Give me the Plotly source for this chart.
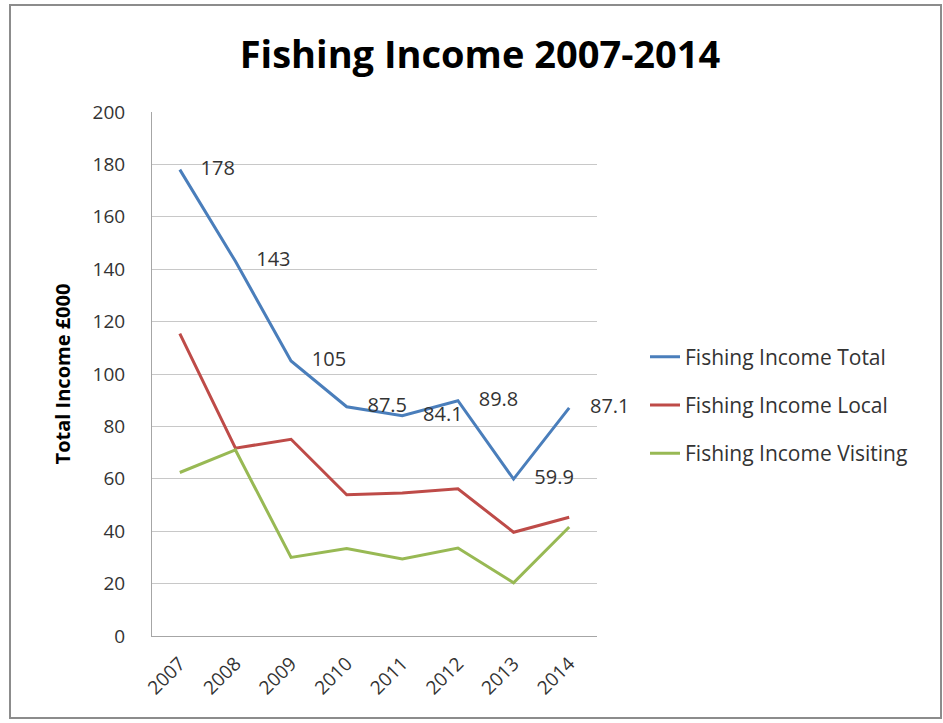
import plotly.graph_objects as go

years = ["2007", "2008", "2009", "2010", "2011", "2012", "2013", "2014"]
total = [178, 143, 105, 87.5, 84.1, 89.8, 59.9, 87.1]
local = [115.4, 71.7, 75.1, 53.9, 54.6, 56.2, 39.6, 45.3]
visiting = [62.4, 71.0, 30.0, 33.4, 29.4, 33.6, 20.3, 41.6]
total_labels = ["178", "143", "105", "87.5", "84.1", "89.8", "59.9", "87.1"]

FONT = "Open Sans"

fig = go.Figure()
fig.add_trace(go.Scatter(x=years, y=total, mode="lines+text", name="Fishing Income Total",
                         legendgroup="a", cliponaxis=False,
                         line=dict(color="#4a7ebb", width=3),
                         text=["    " + s for s in total_labels], textposition="middle right",
                         textfont=dict(size=20, color="#333333", family=FONT)))
fig.add_trace(go.Scatter(x=years, y=local, mode="lines", name="Fishing Income Local",
                         legendgroup="b",
                         line=dict(color="#be4b48", width=3)))
fig.add_trace(go.Scatter(x=years, y=visiting, mode="lines", name="Fishing Income Visiting",
                         legendgroup="c",
                         line=dict(color="#98b954", width=3)))

l, r, t, b = 152, 346, 112, 87
W, H = 943, 723
pw, ph = W - l - r, H - t - b

fig.update_layout(
    width=W, height=H,
    margin=dict(l=l, r=r, t=t, b=b, autoexpand=False),
    paper_bgcolor="white", plot_bgcolor="white",
    font=dict(family=FONT, color="#333333"),
    title=dict(text="<b>Fishing Income 2007-2014</b>", x=480 / W, xanchor="center",
               y=1 - 55 / H, yanchor="middle", font=dict(size=38, color="black", family=FONT)),
    showlegend=True,
    legend=dict(x=(645 - l) / pw, xanchor="left", y=(636 - 405) / ph, yanchor="middle",
                font=dict(size=21, color="#333333", family=FONT),
                tracegroupgap=18, itemwidth=30, bgcolor="rgba(0,0,0,0)"),
    xaxis=dict(type="category", tickangle=-45, tickfont=dict(size=19, color="#333333"),
               showgrid=False, showline=True, linecolor="#a6a6a6", linewidth=1,
               ticks="", ticklabelstandoff=8, range=[-0.5, 7.5]),
    yaxis=dict(range=[0, 200], dtick=20, tickfont=dict(size=19, color="#333333"),
               showgrid=True, gridcolor="#c8c8c8", gridwidth=1,
               showline=True, linecolor="#a6a6a6", zeroline=False,
               ticks="", ticklabelstandoff=22,
               title=dict(text="<b>Total Income £000</b>", font=dict(size=20, color="black"),
                          standoff=16)),
    shapes=[dict(type="rect", xref="paper", yref="paper",
                 x0=(10 - l) / pw, x1=(941 - l) / pw,
                 y0=(H - b - 718) / ph, y1=(H - b - 5) / ph,
                 line=dict(color="#8c8c8c", width=2), fillcolor="rgba(0,0,0,0)", layer="below")],
)

fig.write_html("out.html", config={"displayModeBar": False},
               post_script="document.body.style.margin='0';")
